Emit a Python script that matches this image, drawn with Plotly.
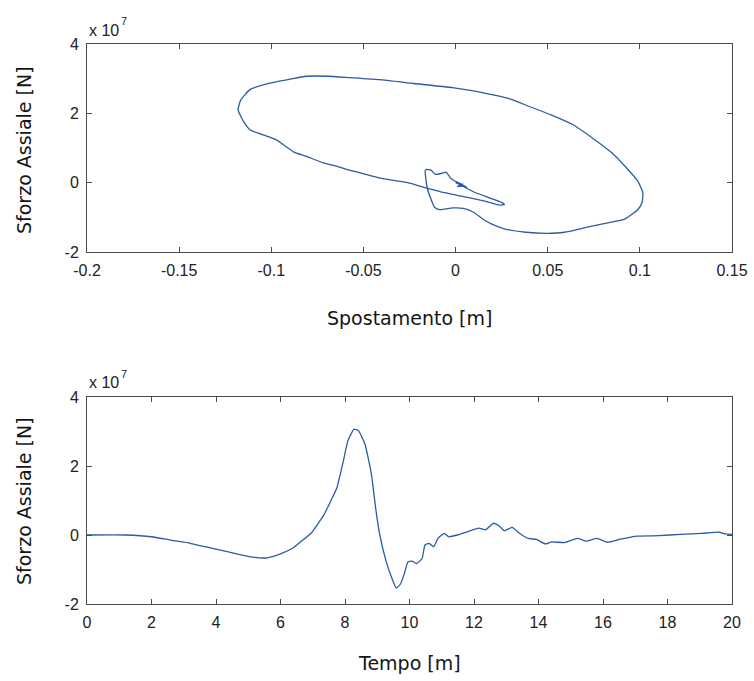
import plotly.graph_objects as go

# ---------------- data (force in units of 1e7 N) ----------------
loop_disp = [0.0, 0.001, 0.010, 0.019, 0.025, 0.0265, 0.024, 0.017, 0.006, -0.006, -0.016,
             -0.026, -0.033, -0.0414, -0.0507, -0.0577, -0.0647, -0.0717, -0.081, -0.088,
             -0.0974, -0.1044, -0.1114, -0.115, -0.118, -0.1166, -0.1114, -0.102, -0.0904,
             -0.081, -0.0694, -0.0577, -0.0414, -0.0227, -0.0016, 0.017, 0.0287, 0.0404,
             0.0521, 0.0638, 0.0755, 0.0848, 0.0918, 0.0988, 0.1016, 0.1012, 0.0988, 0.0918,
             0.0825, 0.0708, 0.0591, 0.0498, 0.0381, 0.0264, 0.0194, 0.0147, 0.010, 0.0042,
             -0.0016, -0.0086, -0.0114, -0.0133, -0.0152, -0.0161, -0.0165, -0.0161, -0.0133,
             -0.011, -0.0075, -0.0051, -0.0028, -0.0005, 0.002, 0.0, 0.004, 0.001, 0.006,
             0.002, 0.005, 0.001, 0.004, 0.003]
loop_force = [0.0, -0.02, -0.27, -0.45, -0.57, -0.63, -0.65, -0.55, -0.42, -0.29, -0.15,
              0.0, 0.06, 0.14, 0.27, 0.36, 0.48, 0.57, 0.76, 0.89,
              1.24, 1.38, 1.52, 1.76, 2.10, 2.38, 2.69, 2.86, 2.98,
              3.07, 3.07, 3.03, 2.97, 2.86, 2.74, 2.57, 2.43, 2.19,
              1.95, 1.67, 1.24, 0.86, 0.48, 0.05, -0.29, -0.57, -0.78, -1.05,
              -1.16, -1.29, -1.43, -1.46, -1.43, -1.33, -1.19, -1.05, -0.86, -0.74,
              -0.73, -0.78, -0.71, -0.48, -0.19, 0.10, 0.33, 0.38, 0.36,
              0.24, 0.27, 0.30, 0.14, 0.05, -0.02, 0.04, -0.06, -0.01, -0.13,
              -0.05, -0.09, -0.11, -0.04, -0.07]

time = [0.0, 1.2, 2.0, 2.6, 3.2, 4.0, 4.7, 5.2, 5.6, 6.0, 6.4, 6.62, 6.95, 7.35, 7.6, 7.75,
        7.95, 8.09, 8.28, 8.42, 8.62, 8.82, 8.95, 9.08, 9.28, 9.46, 9.59, 9.72, 9.84, 9.95,
        10.08, 10.22, 10.39, 10.48, 10.61, 10.75, 10.88, 11.08, 11.21, 11.48, 11.81, 12.15,
        12.35, 12.61, 12.81, 12.94, 13.18, 13.41, 13.68, 13.94, 14.21, 14.41, 14.81, 15.21,
        15.48, 15.81, 16.14, 16.54, 17.07, 17.74, 18.4, 19.07, 19.6, 19.8, 20.0]
force = [0.0, 0.0, -0.05, -0.15, -0.24, -0.41, -0.56, -0.65, -0.66, -0.55, -0.37, -0.20,
         0.05, 0.59, 1.07, 1.37, 2.15, 2.73, 3.07, 3.02, 2.63, 1.76, 0.78, 0.0, -0.78,
         -1.27, -1.54, -1.42, -1.12, -0.78, -0.76, -0.83, -0.68, -0.29, -0.24, -0.34,
         -0.10, 0.05, -0.05, 0.0, 0.10, 0.20, 0.15, 0.34, 0.24, 0.12, 0.22, 0.05, -0.10,
         -0.13, -0.26, -0.20, -0.22, -0.10, -0.18, -0.10, -0.21, -0.12, -0.03, -0.02,
         0.02, 0.05, 0.08, 0.03, 0.02]

disp_ticks = [-0.2, -0.15, -0.1, -0.05, 0, 0.05, 0.1, 0.15]
disp_ticktext = ["-0.2", "-0.15", "-0.1", "-0.05", "0", "0.05", "0.1", "0.15"]
time_ticks = [0, 2, 4, 6, 8, 10, 12, 14, 16, 18, 20]
force_ticks = [-2, 0, 2, 4]
force_ticktext = ["-2", "0", "2", "4"]

LINE = "#2c5ba6"
AX = "#4a4a4a"
TICKFONT = dict(family="Liberation Sans, Arial, sans-serif", size=16, color="#222")
SUPFONT = dict(family="Liberation Sans, Arial, sans-serif", size=11, color="#222")
TITLEFONT = dict(family="DejaVu Sans, sans-serif", size=19, color="#151515")

fig = go.Figure()
fig.add_trace(go.Scatter(x=loop_disp, y=loop_force, mode="lines",
                         line=dict(color=LINE, width=1.3, shape="spline", smoothing=0.5),
                         xaxis="x", yaxis="y", showlegend=False, hoverinfo="skip"))
fig.add_trace(go.Scatter(x=time, y=force, mode="lines",
                         line=dict(color=LINE, width=1.3, shape="spline", smoothing=0.4),
                         xaxis="x2", yaxis="y2", showlegend=False, hoverinfo="skip"))

W, H = 754, 681
xd = [87 / W, 732 / W]
top_dom = [(H - 252) / H, (H - 44) / H]
bot_dom = [(H - 604) / H, (H - 397) / H]

common = dict(showgrid=False, zeroline=False, showline=True, linecolor=AX, linewidth=1,
              mirror="ticks", ticks="inside", ticklen=5, tickcolor=AX, tickwidth=1,
              tickfont=TICKFONT, automargin=False)

fig.update_layout(
    template="none",
    width=W, height=H, margin=dict(l=0, r=0, t=0, b=0, pad=0),
    paper_bgcolor="white", plot_bgcolor="white",
    xaxis=dict(domain=xd, anchor="y", range=[-0.2, 0.15], tickvals=disp_ticks,
               ticktext=disp_ticktext, ticklabelstandoff=4, **common),
    yaxis=dict(domain=top_dom, anchor="x", range=[-2, 4], tickvals=force_ticks,
               ticktext=force_ticktext, ticklabelstandoff=4, **common),
    xaxis2=dict(domain=xd, anchor="y2", range=[0, 20], tickvals=time_ticks,
                ticklabelstandoff=4, **common),
    yaxis2=dict(domain=bot_dom, anchor="x2", range=[-2, 4], tickvals=force_ticks,
                ticktext=force_ticktext, ticklabelstandoff=4, **common),
)

ann = []
for ytop in (30, 383):
    ann.append(dict(text="x 10", x=87 / W, y=(H - ytop) / H, xref="paper",
                    yref="paper", xanchor="left", yanchor="middle", showarrow=False,
                    font=TICKFONT))
    ann.append(dict(text="7", x=119 / W, y=(H - ytop + 9) / H, xref="paper",
                    yref="paper", xanchor="left", yanchor="middle", showarrow=False,
                    font=SUPFONT))
ann.append(dict(text="Spostamento [m]", x=(87 + 732) / 2 / W, y=(H - 318) / H,
                xref="paper", yref="paper", xanchor="center", yanchor="middle",
                showarrow=False, font=TITLEFONT))
ann.append(dict(text="Tempo [m]", x=(87 + 732) / 2 / W, y=(H - 663) / H,
                xref="paper", yref="paper", xanchor="center", yanchor="middle",
                showarrow=False, font=TITLEFONT))
for yc in (150, 501):
    ann.append(dict(text="Sforzo Assiale [N]", x=24 / W, y=(H - yc) / H, xref="paper",
                    yref="paper", xanchor="center", yanchor="middle", textangle=-90,
                    showarrow=False, font=TITLEFONT))
fig.update_layout(annotations=ann)

fig.write_html("out.html")
